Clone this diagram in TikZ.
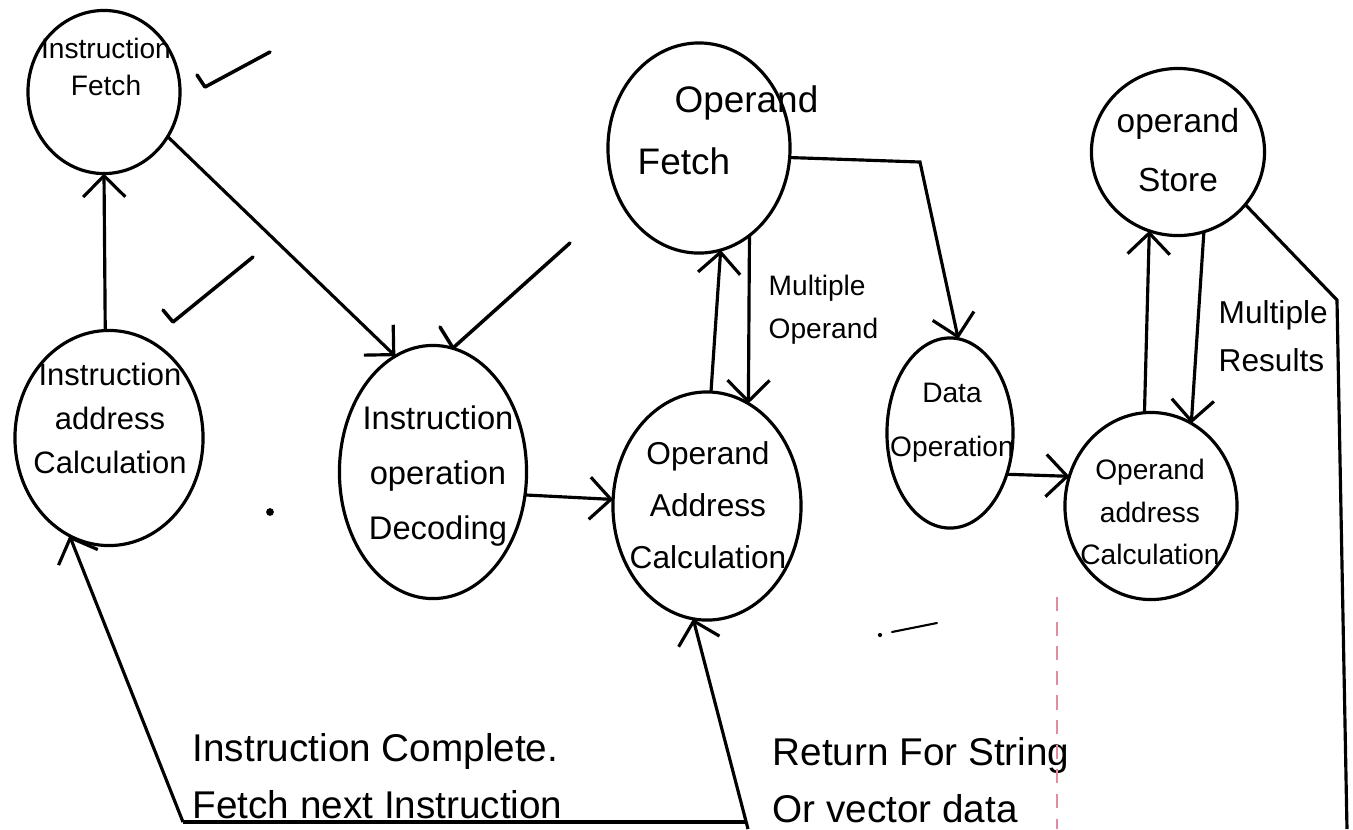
\documentclass[tikz,border=0pt]{standalone}
\usepackage{fontspec}
\setmainfont{Liberation Sans}
\usetikzlibrary{arrows.meta,shapes.geometric}
\definecolor{marginred}{RGB}{226,140,160}
\begin{document}
\begin{tikzpicture}[x=0.01cm,y=-0.01cm,
  st/.style={draw, ellipse, line width=0.9pt, inner sep=0pt, outer sep=0pt},
  lbl/.style={align=center, inner sep=0pt},
  note/.style={align=left, inner sep=0pt},
  arr/.style={line width=0.9pt, -{Straight Barb[length=6pt,width=12pt,line width=0.9pt]}},
  wire/.style={line width=0.9pt},
  tick/.style={line width=1pt, line cap=round, line join=round},
  margin/.style={draw=marginred, line width=0.8pt, dash pattern=on 4pt off 3pt}
]
\useasboundingbox (0,0) rectangle (1353,829);

% states of the instruction cycle
\node[st, minimum width=1.52cm, minimum height=1.63cm] (IF)   at (104,92)  {};
\node[st, minimum width=1.88cm, minimum height=2.15cm] (IAC)  at (109,438) {};
\node[st, minimum width=1.87cm, minimum height=2.53cm] (IOD)  at (433,472) {};
\node[st, minimum width=1.82cm, minimum height=2.10cm] (OF)   at (699,148) {};
\node[st, minimum width=1.88cm, minimum height=2.28cm] (OAC1) at (707,506) {};
\node[st, minimum width=1.26cm, minimum height=1.90cm] (DO)   at (950,433) {};
\node[st, minimum width=1.73cm, minimum height=1.67cm] (OS)   at (1178,152) {};
\node[st, minimum width=1.72cm, minimum height=1.87cm] (OAC2) at (1151,506) {};

% state names
\node[lbl, font=\fontsize{8}{10.5}\selectfont] (IFt) at (106,67) {Instruction\\Fetch};
\node[lbl, font=\fontsize{8.8}{12.5}\selectfont] (IACt) at (110,418) {Instruction\\address\\Calculation};
\node[lbl, font=\fontsize{9.3}{15.6}\selectfont] (IODt) at (438,476) {Instruction\\operation\\Decoding};
\node[note, font=\fontsize{10.5}{17.6}\selectfont, anchor=west] (OFt) at (637,130) {\hspace*{1em}Operand\\Fetch};
\node[lbl, font=\fontsize{9}{14.8}\selectfont] (OAC1t) at (708,505) {Operand\\Address\\Calculation};
\node[lbl, font=\fontsize{8}{15.4}\selectfont] (DOt) at (952,423) {Data\\Operation};
\node[lbl, font=\fontsize{9.5}{17}\selectfont] (OSt) at (1178,150) {operand\\Store};
\node[lbl, font=\fontsize{8}{12.2}\selectfont] (OAC2t) at (1150,512) {Operand\\address\\Calculation};

% loop labels
\node[note, font=\fontsize{8}{12.2}\selectfont, anchor=west] (MO) at (768,310) {Multiple\\Operand};
\node[note, font=\fontsize{9}{13.7}\selectfont, anchor=west] (MR) at (1218,336) {Multiple\\Results};
\node[note, font=\fontsize{11}{14}\selectfont, anchor=west] (IC) at (192,776) {Instruction Complete.\\[0.2em]Fetch next Instruction};
\node[note, font=\fontsize{11}{14}\selectfont, anchor=west] (RS) at (772,780) {Return For String\\[0.2em]Or vector data};

% bend points of the connectors
\coordinate (k1) at (920,162);
\coordinate (r1) at (1337,300);
\coordinate (r2) at (1347,829);
\coordinate (b1) at (183,822);
\coordinate (b2) at (746,822);
\coordinate (b3) at (748,829);

% transitions
\draw[arr] (IAC.92) -- (IF.-90);
\draw[arr] (IF.-35) -- (IOD.108);
\draw[arr] (IOD.-14) -- (OAC1.176);
\draw[arr] (OAC1.88) -- (OF.-78);
\draw[arr] (OF.-60) -- (OAC1.68);
\draw[arr] (OF.-6) -- (k1) -- (DO.85);
\draw[arr] (DO.-36) -- (OAC2.160);
\draw[arr] (OAC2.94) -- (OS.-110);
\draw[arr] (OS.-72) -- (OAC2.64);
\draw[wire] (OS.-38) -- (r1) -- (r2);
\draw[wire] (b1) -- (b2);
\draw[arr] (b1) -- (IAC.-112);
\draw[arr] (b3) -- (OAC1.-97);

% tick marks
\draw[tick] (197,75) -- (205,87) -- (270,52);
\draw[tick] (163,310) -- (173,322) -- (253,257);
\draw[tick] (440,327) -- (453,348) -- (570,243);

% stray pen marks and page margin
\fill (270,512) circle[radius=1.1pt];
\draw[line width=0.6pt, line cap=round] (892,632) -- (937,623);
\fill (880,635) circle[radius=0.6pt];
\draw[margin] (1057,597) -- (1057,829);
\end{tikzpicture}
\end{document}
